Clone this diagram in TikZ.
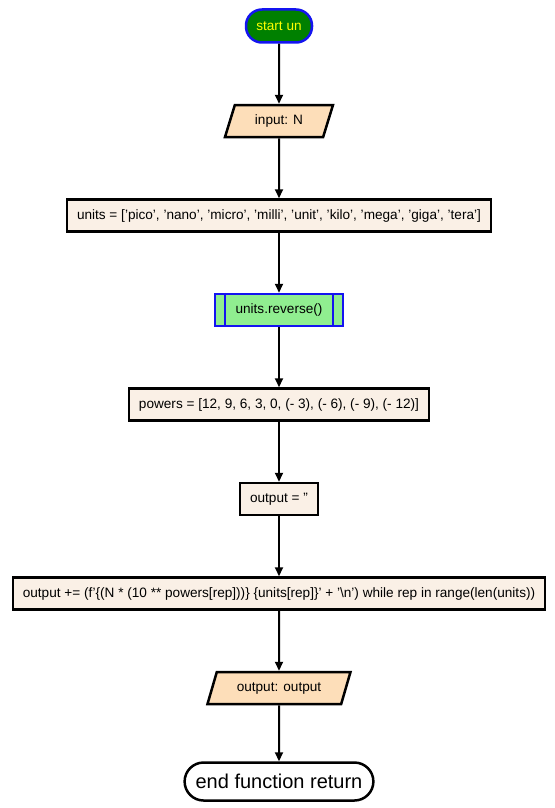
\documentclass[tikz,border=0pt]{standalone}
\usepackage{fontspec}
\setmainfont{Liberation Sans}
\usetikzlibrary{shapes.geometric,arrows.meta,positioning}
\definecolor{startfill}{RGB}{0,128,0}
\definecolor{startline}{RGB}{20,20,240}
\definecolor{startfont}{RGB}{255,255,0}
\definecolor{boxfill}{RGB}{250,240,230}
\definecolor{iofill}{RGB}{253,222,185}
\definecolor{subfill}{RGB}{144,238,144}
\tikzset{%
  base/.style     = {draw, line width=2.5pt, minimum height=32pt, inner xsep=10pt,
    font=\fontsize{13.6}{16}\selectfont, text centered},
  process/.style  = {base, rectangle, fill=boxfill},
  io/.style       = {base, trapezium, trapezium left angle=63, trapezium right angle=117,
    trapezium stretches body, fill=iofill}, % Input/Output
  subproc/.style  = {base, rectangle, draw=startline, fill=subfill, minimum width=128pt},
  terminal/.style = {base, rectangle, rounded corners=16pt},
  flow/.style     = {line width=2pt, -{Triangle[length=9pt,width=8pt]}}
}
\begin{document}
\begin{tikzpicture}[x=1pt, y=1pt, node distance=60pt]
\useasboundingbox (0,0) rectangle (554,-808);
\node at (279,-26) [terminal, name=start, draw=startline, fill=startfill, text=startfont,
  minimum width=66pt, minimum height=33pt]{start un};
\node [io, name=input, below=of start, minimum width=108pt]{input: N};
\node [process, name=units, below=of input]{units = ['pico', 'nano', 'micro', 'milli', 'unit', 'kilo', 'mega', 'giga', 'tera']};
\node [subproc, name=rev, below=of units]{units.reverse()};
\draw[startline, line width=2pt] ([xshift=11pt]rev.north west) -- ([xshift=11pt]rev.south west);
\draw[startline, line width=2pt] ([xshift=-11pt]rev.north east) -- ([xshift=-11pt]rev.south east);
\node [process, name=powers, below=of rev]{powers = [12, 9, 6, 3, 0, (- 3), (- 6), (- 9), (- 12)]};
\node [process, name=init, below=of powers, minimum width=78pt]{output = ''};
\node [process, name=loop, below=of init]{output += (f'\{(N * (10 ** powers[rep]))\} \{units[rep]\}' + '\textbackslash n') while rep in range(len(units))};
\node [io, name=output, below=of loop, minimum width=143pt]{output: output};
\node [terminal, name=finish, below=56pt of output, fill=white, minimum height=38pt,
  rounded corners=19pt, inner xsep=11pt, font=\fontsize{20}{24}\selectfont]{end function return};
\draw[flow](start) -- (input);
\draw[flow](input) -- (units);
\draw[flow](units) -- (rev);
\draw[flow](rev) -- (powers);
\draw[flow](powers) -- (init);
\draw[flow](init) -- (loop);
\draw[flow](loop) -- (output);
\draw[flow](output) -- (finish);
\end{tikzpicture}
\end{document}
